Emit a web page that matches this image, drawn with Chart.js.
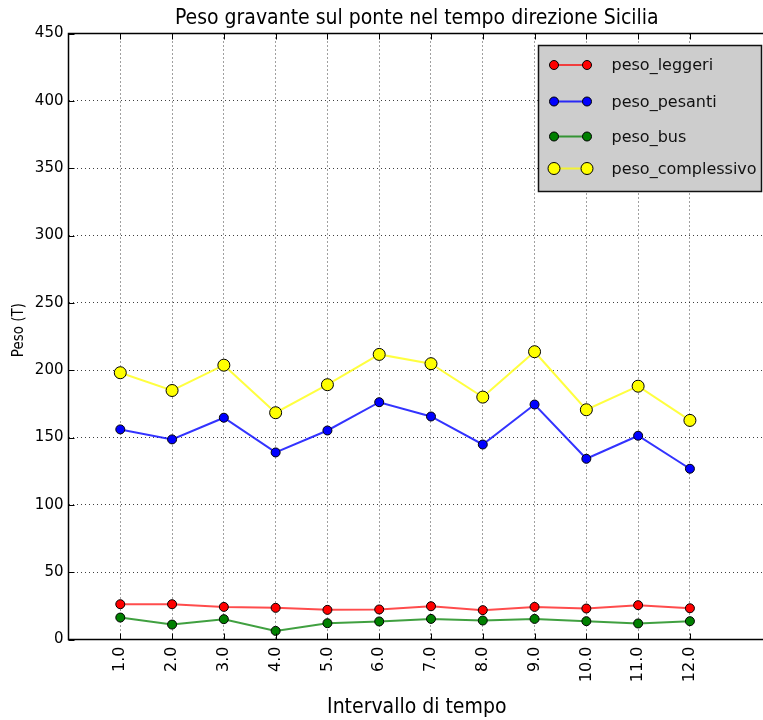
<!DOCTYPE html>
<html>
<head>
<meta charset="utf-8">
<script src="https://cdn.jsdelivr.net/npm/chart.js@4.4.0/dist/chart.umd.min.js"></script>
<style>
  html, body { margin: 0; padding: 0; background: #fff; overflow: hidden; }
  #wrap { width: 772px; height: 720px; }
</style>
</head>
<body>
<div id="wrap"><canvas id="myChart"></canvas></div>
<script>
const intervals = [1, 2, 3, 4, 5, 6, 7, 8, 9, 10, 11, 12];
const pesoLeggeri = [26.2, 26.2, 24.2, 23.5, 22.0, 22.3, 24.7, 21.8, 24.2, 23.0, 25.5, 23.2];
const pesoPesanti = [156.0, 148.6, 164.7, 138.9, 155.2, 176.2, 165.6, 144.8, 174.5, 134.2, 151.3, 126.8];
const pesoBus = [16.3, 11.1, 15.1, 6.4, 12.1, 13.4, 15.3, 14.1, 15.3, 13.6, 11.9, 13.6];
const pesoComplessivo = [198.1, 184.9, 203.7, 168.4, 189.2, 211.7, 204.8, 180.0, 213.7, 170.6, 188.1, 162.7];
const yTicks = [0, 50, 100, 150, 200, 250, 300, 350, 400, 450];

const FONT = "'DejaVu Sans', sans-serif";
const FONT_COND = "'DejaVu Sans Condensed', 'DejaVu Sans', sans-serif";

// frame, inward tick marks, y label and the grey matplotlib-style legend
const frameAndLegend = {
  id: "frameAndLegend",
  afterDatasetsDraw(chart) {
    const { ctx, chartArea: a, scales } = chart;
    ctx.save();
    ctx.strokeStyle = "#000";
    ctx.lineWidth = 1;
    scales.x.ticks.forEach((t) => {
      const px = Math.round(scales.x.getPixelForValue(t.value)) + 0.5;
      ctx.beginPath();
      ctx.moveTo(px, a.bottom);
      ctx.lineTo(px, a.bottom - 6);
      ctx.moveTo(px, a.top);
      ctx.lineTo(px, a.top + 6);
      ctx.stroke();
    });
    scales.y.ticks.forEach((t) => {
      const py = Math.round(scales.y.getPixelForValue(t.value)) + 0.5;
      ctx.beginPath();
      ctx.moveTo(a.left, py);
      ctx.lineTo(a.left + 6, py);
      ctx.stroke();
    });
    ctx.lineWidth = 1.5;
    ctx.strokeRect(a.left, a.top, a.right - a.left, a.bottom - a.top);

    // y axis label
    ctx.save();
    ctx.translate(19, 330);
    ctx.rotate(-Math.PI / 2);
    ctx.fillStyle = "#000";
    ctx.font = "15px " + FONT_COND;
    ctx.textAlign = "center";
    ctx.textBaseline = "middle";
    ctx.fillText("Peso (T)", 0, 0);
    ctx.restore();

    // legend
    const bx = 538.5, by = 45.5, bw = 223, bh = 146;
    ctx.fillStyle = "#cdcdcd";
    ctx.fillRect(bx, by, bw, bh);
    ctx.lineWidth = 1.5;
    ctx.strokeStyle = "#111";
    ctx.strokeRect(bx, by, bw, bh);
    const rows = [65, 101.5, 136.5, 168.5];
    ctx.font = "16px " + FONT;
    ctx.textBaseline = "middle";
    chart.data.datasets.forEach((ds, i) => {
      const y = rows[i];
      ctx.strokeStyle = ds.borderColor;
      ctx.lineWidth = 2;
      ctx.beginPath();
      ctx.moveTo(554, y);
      ctx.lineTo(587, y);
      ctx.stroke();
      [554, 587].forEach((x) => {
        ctx.beginPath();
        ctx.arc(x, y, ds.pointRadius, 0, Math.PI * 2);
        ctx.fillStyle = ds.pointBackgroundColor;
        ctx.fill();
        ctx.lineWidth = 1;
        ctx.strokeStyle = "#000";
        ctx.stroke();
      });
      ctx.fillStyle = "#111";
      ctx.fillText(ds.label, 611.5, y + 1);
    });
    ctx.restore();
  },
};

function series(label, data, line, fill, radius) {
  return {
    label: label,
    data: data,
    borderColor: line,
    borderWidth: 2,
    pointBackgroundColor: fill,
    pointBorderColor: "#000",
    pointBorderWidth: 1,
    pointRadius: radius,
    pointHoverRadius: radius,
    tension: 0,
    fill: false,
  };
}

const ctx = document.getElementById("myChart").getContext("2d");
const myChart = new Chart(ctx, {
  type: "line",
  data: {
    labels: intervals,
    datasets: [
      series("peso_leggeri", pesoLeggeri, "rgba(255, 0, 0, 0.7)", "#ff0000", 4.5),
      series("peso_pesanti", pesoPesanti, "rgba(0, 0, 255, 0.8)", "#0000ff", 4.5),
      series("peso_bus", pesoBus, "rgba(0, 128, 0, 0.75)", "#008000", 4.5),
      series("peso_complessivo", pesoComplessivo, "rgba(255, 255, 0, 0.75)", "#ffff00", 6),
    ],
  },
  options: {
    responsive: true,
    maintainAspectRatio: false,
    animation: false,
    layout: { padding: { left: 0, right: 2, top: 0, bottom: 0 } },
    plugins: {
      legend: { display: false },
      tooltip: { enabled: false },
      title: {
        display: true,
        fullSize: false,
        text: "Peso gravante sul ponte nel tempo direzione Sicilia",
        color: "#000",
        font: { family: FONT_COND, size: 21, weight: "normal" },
        padding: { top: 6, bottom: 2.3 },
      },
    },
    scales: {
      x: {
        type: "linear",
        min: 0,
        max: 13.45,
        afterBuildTicks: (axis) => {
          axis.ticks = intervals.map((v) => ({ value: v }));
        },
        afterFit: (scale) => {
          scale.height = 80.5;
        },
        grid: { color: "rgba(0, 0, 0, 0.75)", lineWidth: 1, drawTicks: false },
        border: { display: false, dash: [1, 3] },
        ticks: {
          autoSkip: false,
          maxRotation: 90,
          minRotation: 90,
          padding: 7,
          color: "#000",
          font: { family: FONT, size: 16 },
          callback: (v) => Number(v).toFixed(1),
        },
        title: {
          display: true,
          text: "Intervallo di tempo",
          color: "#000",
          font: { family: FONT_COND, size: 21 },
          padding: { top: 3, bottom: 0 },
        },
      },
      y: {
        min: 0,
        max: 450,
        afterBuildTicks: (axis) => {
          axis.ticks = yTicks.map((v) => ({ value: v }));
        },
        afterFit: (scale) => {
          scale.width = 68.5;
        },
        grid: { color: "rgba(0, 0, 0, 0.75)", lineWidth: 1, drawTicks: false },
        border: { display: false, dash: [1, 3] },
        ticks: {
          padding: 5,
          color: "#000",
          font: { family: FONT, size: 15 },
        },
      },
    },
  },
  plugins: [frameAndLegend],
});
</script>
</body>
</html>
